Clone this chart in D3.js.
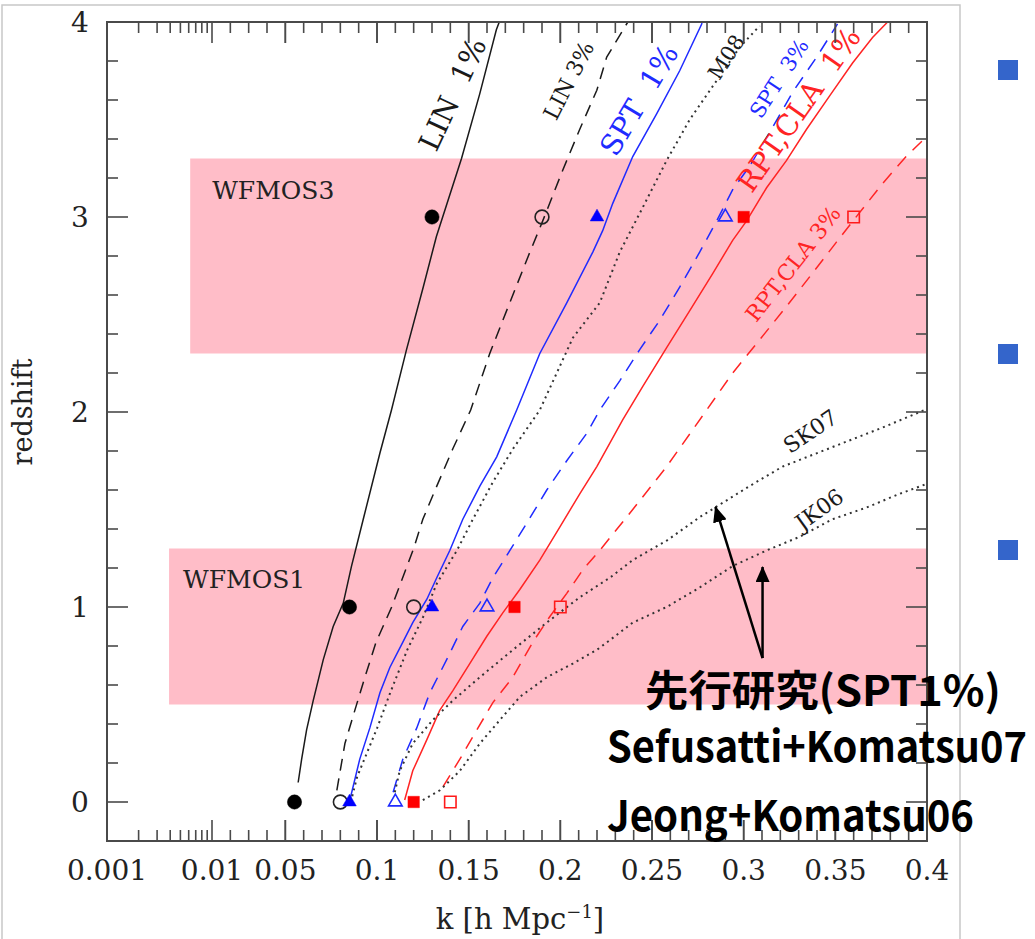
<!DOCTYPE html>
<html>
<head>
<meta charset="utf-8">
<script src="https://cdn.jsdelivr.net/npm/d3@7"></script>
<style>
  html, body { margin: 0; padding: 0; background: #fff; }
  svg { display: block; }
</style>
</head>
<body>
<svg id="chart" width="1035" height="939"></svg>
<script>
// ---------- data: limiting wavenumber k [h/Mpc] against redshift z ----------
// each curve is a list of [k, z] pairs
const linOnePct = [[0.0570,0.10],[0.0589,0.22],[0.0616,0.37],[0.0652,0.52],[0.0707,0.73],[0.0761,0.90],
  [0.0816,1.02],[0.0861,1.21],[0.0925,1.45],[0.1016,1.79],[0.1079,2.01],[0.1161,2.32],[0.1252,2.64],
  [0.1324,2.90],[0.1461,3.30],[0.1560,3.63],[0.1651,3.96],[0.1671,4.01]];
const linThreePct = [[0.0781,0.06],[0.0825,0.30],[0.0879,0.47],[0.0934,0.64],[0.0995,0.82],[0.1080,1.00],
  [0.1140,1.15],[0.1200,1.30],[0.1250,1.45],[0.1326,1.62],[0.1413,1.81],[0.1511,2.01],[0.1615,2.30],
  [0.1724,2.56],[0.1834,2.82],[0.1904,2.98],[0.2013,3.24],[0.2106,3.45],[0.2199,3.65],[0.2253,3.82],[0.2368,4.0]];
const sptOnePct = [[0.0852,0.01],[0.0906,0.22],[0.0961,0.38],[0.1016,0.56],[0.1070,0.69],[0.1141,0.82],
  [0.1195,0.92],[0.1272,1.04],[0.1326,1.15],[0.1397,1.29],[0.1468,1.45],[0.1561,1.62],[0.1653,1.77],
  [0.1762,2.01],[0.1888,2.30],[0.2035,2.56],[0.2177,2.82],[0.2231,2.93],[0.2286,3.07],[0.2395,3.31],
  [0.2526,3.53],[0.2651,3.75],[0.2771,3.99],[0.2775,4.01]];
const sptThreePct = [[0.1088,0.05],[0.1141,0.22],[0.1217,0.38],[0.1288,0.56],[0.1380,0.73],[0.1468,0.90],
  [0.1561,1.02],[0.1632,1.15],[0.1725,1.29],[0.1817,1.43],[0.1926,1.60],[0.2035,1.75],[0.2144,1.89],
  [0.2215,2.01],[0.2324,2.16],[0.2433,2.32],[0.2542,2.47],[0.2651,2.64],[0.2760,2.82],[0.2853,2.98],
  [0.2940,3.14],[0.3032,3.26],[0.3158,3.46],[0.3267,3.64],[0.3398,3.82],[0.3512,3.99]];
const rptOnePct = [[0.1151,0.01],[0.1195,0.16],[0.1272,0.32],[0.1342,0.47],[0.1413,0.57],[0.1506,0.71],
  [0.1599,0.85],[0.1686,0.97],[0.1779,1.09],[0.1888,1.24],[0.1997,1.41],[0.2106,1.58],[0.2199,1.72],
  [0.2270,1.84],[0.2340,1.96],[0.2449,2.13],[0.2580,2.33],[0.2706,2.52],[0.2831,2.71],[0.2940,2.88],
  [0.3016,2.98],[0.3125,3.15],[0.3234,3.29],[0.3343,3.45],[0.3468,3.62],[0.3594,3.79],[0.3703,3.92],[0.3785,4.0]];
const rptThreePct = [[0.1361,0.08],[0.1452,0.22],[0.1545,0.37],[0.1632,0.51],[0.1741,0.64],[0.1850,0.82],
  [0.1942,0.95],[0.2035,1.07],[0.2122,1.19],[0.2215,1.29],[0.2395,1.50],[0.2580,1.72],[0.2798,2.01],
  [0.2940,2.20],[0.3087,2.37],[0.3232,2.54],[0.3374,2.71],[0.3505,2.87],[0.3630,3.02],[0.3756,3.17],
  [0.3886,3.31],[0.3995,3.41]];
const m08 = [[0.0865,0.03],[0.0892,0.13],[0.1001,0.38],[0.1072,0.56],[0.1165,0.78],[0.1252,0.95],
  [0.1326,1.12],[0.1436,1.29],[0.1523,1.45],[0.1632,1.64],[0.1741,1.81],[0.1888,2.01],[0.2068,2.38],
  [0.2215,2.56],[0.2324,2.82],[0.2450,3.05],[0.2580,3.29],[0.2706,3.50],[0.2853,3.70],[0.2978,3.87],[0.3087,3.98]];
const sk07 = [[0.1097,0.05],[0.1124,0.16],[0.1195,0.30],[0.1304,0.42],[0.1413,0.52],[0.1561,0.64],
  [0.1741,0.78],[0.1926,0.92],[0.2106,1.05],[0.2270,1.15],[0.2394,1.24],[0.2580,1.34],[0.2759,1.46],
  [0.3032,1.62],[0.3212,1.72],[0.3484,1.82],[0.3757,1.92],[0.3986,2.01]];
const jk06 = [[0.1250,0.01],[0.1343,0.06],[0.1452,0.16],[0.1561,0.30],[0.1670,0.42],[0.1780,0.54],
  [0.1927,0.64],[0.2068,0.71],[0.2199,0.78],[0.2270,0.83],[0.2395,0.92],[0.2580,1.00],[0.2760,1.10],
  [0.2940,1.21],[0.3125,1.29],[0.3305,1.36],[0.3484,1.45],[0.3670,1.51],[0.3849,1.58],[0.3995,1.63]];

// survey marks at z = 0, 1, 3
const markRedshifts = [0, 1, 3];
const linOneMarks   = [0.055, 0.085, 0.13];
const linThreeMarks = [0.08, 0.12, 0.19];
const sptOneMarks   = [0.085, 0.13, 0.22];
const sptThreeMarks = [0.11, 0.16, 0.29];
const rptOneMarks   = [0.12, 0.175, 0.30];
const rptThreeMarks = [0.14, 0.20, 0.36];

// survey redshift bands: [label, kStart, zLow, zHigh]
const surveyBands = [["WFMOS3", 0.0062, 2.3, 3.3], ["WFMOS1", 0.0039, 0.5, 1.3]];

// axis ticks
const xTickValues = [0.001, 0.01, 0.05, 0.1, 0.15, 0.2, 0.25, 0.3, 0.35, 0.4];
const xTickLabels = ["0.001", "0.01", "0.05", "0.1", "0.15", "0.2", "0.25", "0.3", "0.35", "0.4"];
const yTickValues = [0, 1, 2, 3, 4];

// ---------- scales ----------
const plot = { left: 107, right: 927, top: 22, bottom: 841 };
const xLog = d3.scaleLog().domain([0.001, 0.01]).range([plot.left, 212]);
const xLin = d3.scaleLinear().domain([0.01, 0.4]).range([212, plot.right]);
const x = k => (k < 0.01 ? xLog(k) : xLin(k));
const y = d3.scaleLinear().domain([-0.2, 4]).range([plot.bottom, plot.top]);

const svg = d3.select("#chart");
svg.append("rect").attr("width", 1035).attr("height", 939).attr("fill", "#fff");

// slide border
svg.append("path")
  .attr("d", "M2,939 L2,5 L960,5 L960,939")
  .attr("fill", "none").attr("stroke", "#c8c8c8").attr("stroke-width", 1.5);

// slide bullets
[70, 354, 550].forEach(cy => {
  svg.append("rect").attr("x", 998).attr("y", cy - 10).attr("width", 20).attr("height", 20)
    .attr("fill", "#3465cb");
});

const defs = svg.append("defs");
defs.append("clipPath").attr("id", "plotClip")
  .append("rect").attr("x", plot.left).attr("y", plot.top)
  .attr("width", plot.right - plot.left).attr("height", plot.bottom - plot.top);

const serif = "'DejaVu Serif', serif";

// bands
const bandG = svg.append("g").attr("clip-path", "url(#plotClip)");
surveyBands.forEach(([name, k0, z0, z1]) => {
  bandG.append("rect")
    .attr("x", x(k0)).attr("y", y(z1))
    .attr("width", plot.right - x(k0)).attr("height", y(z0) - y(z1))
    .attr("fill", "#ffbdc8");
});
svg.append("text").attr("x", x(0.0101)).attr("y", y(3.09)).text("WFMOS3")
  .attr("font-family", serif).attr("font-size", 25).attr("fill", "#222");
svg.append("text").attr("x", x(0.0053)).attr("y", y(1.10)).text("WFMOS1")
  .attr("font-family", serif).attr("font-size", 25).attr("fill", "#222");

// curves
const line = d3.line().x(d => x(d[0])).y(d => y(d[1]));
const curveG = svg.append("g").attr("clip-path", "url(#plotClip)").attr("fill", "none");
const curves = [
  { d: linOnePct,   color: "#1a1a1a", dash: null },
  { d: linThreePct, color: "#1a1a1a", dash: "12,8" },
  { d: sptOnePct,   color: "#1f2bff", dash: null },
  { d: sptThreePct, color: "#1f2bff", dash: "13,9" },
  { d: rptOnePct,   color: "#ff2424", dash: null },
  { d: rptThreePct, color: "#ff2424", dash: "13,9" },
  { d: m08,  color: "#333", dash: "2,4", w: 2 },
  { d: sk07, color: "#333", dash: "2,4", w: 2 },
  { d: jk06, color: "#333", dash: "2,4", w: 2 }
];
curves.forEach(c => {
  curveG.append("path").attr("d", line(c.d))
    .attr("stroke", c.color).attr("stroke-width", c.w || 1.5)
    .attr("stroke-dasharray", c.dash);
});

// marks
const markSets = [
  { ks: linOneMarks,   type: d3.symbolCircle,   size: 160, color: "#000",    filled: true },
  { ks: linThreeMarks, type: d3.symbolCircle,   size: 150, color: "#222",    filled: false },
  { ks: sptOneMarks,   type: d3.symbolTriangle, size: 80,  color: "#0000ff", filled: true },
  { ks: sptThreeMarks, type: d3.symbolTriangle, size: 80,  color: "#1f2bff", filled: false },
  { ks: rptOneMarks,   type: d3.symbolSquare,   size: 130, color: "#ff0000", filled: true },
  { ks: rptThreeMarks, type: d3.symbolSquare,   size: 130, color: "#ff1a1a", filled: false }
];
markSets.forEach(s => {
  s.ks.forEach((k, i) => {
    svg.append("path")
      .attr("d", d3.symbol().type(s.type).size(s.size)())
      .attr("transform", `translate(${x(k)},${y(markRedshifts[i])})`)
      .attr("fill", s.filled ? s.color : "none")
      .attr("stroke", s.color).attr("stroke-width", s.filled ? 0.5 : 1.6);
  });
});

// curve labels: [text, k, z, angle, size, colour]
const curveLabels = [
  ["LIN\u00a0\u00a01%", 0.1413, 3.63, -65, 29, "#1a1a1a"],
  ["LIN 3%", 0.2046, 3.70, -63, 22, "#1a1a1a"],
  ["SPT\u00a0\u00a01%", 0.2430, 3.60, -59, 29, "#1f2bff"],
  ["M08", 0.2906, 3.82, -57, 21, "#1a1a1a"],
  ["SPT\u00a0\u00a03%", 0.3195, 3.71, -57, 21, "#1f2bff"],
  ["RPT,CLA\u00a0\u00a01%", 0.3300, 3.55, -55, 29, "#ff2424"],
  ["RPT,CLA 3%", 0.3270, 2.76, -52, 22, "#ff2424"],
  ["SK07", 0.3364, 1.90, -34, 22, "#1a1a1a"],
  ["JK06", 0.3413, 1.50, -36, 22, "#1a1a1a"]
];
curveLabels.forEach(([t, k, z, a, fs, col]) => {
  svg.append("text")
    .attr("transform", `translate(${x(k)},${y(z)}) rotate(${a})`)
    .attr("text-anchor", "middle").attr("dominant-baseline", "central")
    .attr("font-family", serif).attr("font-size", fs).attr("fill", col)
    .text(t);
});

// frame and ticks
const axisColor = "#4a4a4a";
const tickG = svg.append("g").attr("stroke", axisColor).attr("stroke-width", 1.6);
const minorX = d3.range(2, 10).map(i => i * 0.001)
  .concat(d3.range(2, 40).map(i => +(i * 0.01).toFixed(2)));
const majorX = [0.01].concat(d3.range(1, 9).map(i => +(i * 0.05).toFixed(2)));
minorX.concat(majorX).forEach(k => {
  const len = majorX.includes(k) ? 21 : 11;
  tickG.append("line").attr("x1", x(k)).attr("x2", x(k))
    .attr("y1", plot.bottom).attr("y2", plot.bottom - len);
  tickG.append("line").attr("x1", x(k)).attr("x2", x(k))
    .attr("y1", plot.top).attr("y2", plot.top + len);
});
d3.range(-1, 21).map(i => +(i * 0.2).toFixed(1)).forEach(z => {
  const len = Number.isInteger(z) ? 21 : 11;
  tickG.append("line").attr("x1", plot.left).attr("x2", plot.left + len)
    .attr("y1", y(z)).attr("y2", y(z));
  tickG.append("line").attr("x1", plot.right).attr("x2", plot.right - len)
    .attr("y1", y(z)).attr("y2", y(z));
});
svg.append("rect").attr("x", plot.left).attr("y", plot.top)
  .attr("width", plot.right - plot.left).attr("height", plot.bottom - plot.top)
  .attr("fill", "none").attr("stroke", axisColor).attr("stroke-width", 2);

// tick labels
xTickValues.forEach((k, i) => {
  svg.append("text").attr("x", x(k)).attr("y", 880)
    .attr("text-anchor", "middle").attr("font-family", serif).attr("font-size", 28)
    .attr("fill", "#222").text(xTickLabels[i]);
});
yTickValues.forEach(z => {
  svg.append("text").attr("x", 80).attr("y", y(z))
    .attr("text-anchor", "middle").attr("dominant-baseline", "central")
    .attr("font-family", serif).attr("font-size", 28).attr("fill", "#222").text(z);
});

// axis titles
const xTitle = svg.append("text").attr("x", (plot.left + plot.right) / 2 + 3).attr("y", 929)
  .attr("text-anchor", "middle").attr("font-family", serif).attr("font-size", 29).attr("fill", "#222");
xTitle.append("tspan").text("k [h Mpc");
xTitle.append("tspan").attr("dy", -11).attr("font-size", 18).text("−1");
xTitle.append("tspan").attr("dy", 11).text("]");
svg.append("text").attr("transform", `translate(22,${y(2)}) rotate(-90)`)
  .attr("text-anchor", "middle").attr("dominant-baseline", "central")
  .attr("font-family", serif).attr("font-size", 27).attr("fill", "#222").text("redshift");

// annotation: previous studies
defs.append("marker").attr("id", "arrowHead").attr("markerUnits", "userSpaceOnUse")
  .attr("viewBox", "0 0 16 14").attr("refX", 15).attr("refY", 7)
  .attr("markerWidth", 16).attr("markerHeight", 14).attr("orient", "auto")
  .append("path").attr("d", "M0,0 L16,7 L0,14 Z").attr("fill", "#000");
const arrowBase = [0.3103, 0.738];
const arrowTips = [[0.2846, 1.513], [0.3103, 1.205]];
arrowTips.forEach(t => {
  svg.append("line")
    .attr("x1", x(arrowBase[0])).attr("y1", y(arrowBase[1]))
    .attr("x2", x(t[0])).attr("y2", y(t[1]))
    .attr("stroke", "#000").attr("stroke-width", 2.5)
    .attr("marker-end", "url(#arrowHead)");
});
const jp = "'Noto Sans CJK JP', 'Noto Sans', sans-serif";
const notes = [
  ["先行研究(SPT1%)", 645, 706, 42, 356],
  ["Sefusatti+Komatsu07", 607, 762, 42, 420],
  ["Jeong+Komatsu06", 607, 831, 42, 367]
];
notes.forEach(([t, nx, ny, fs, len]) => {
  svg.append("text").attr("x", nx).attr("y", ny).attr("font-family", jp)
    .attr("font-weight", 700).attr("font-size", fs).attr("fill", "#000")
    .attr("textLength", len).attr("lengthAdjust", "spacingAndGlyphs").text(t);
});
</script>
</body>
</html>
